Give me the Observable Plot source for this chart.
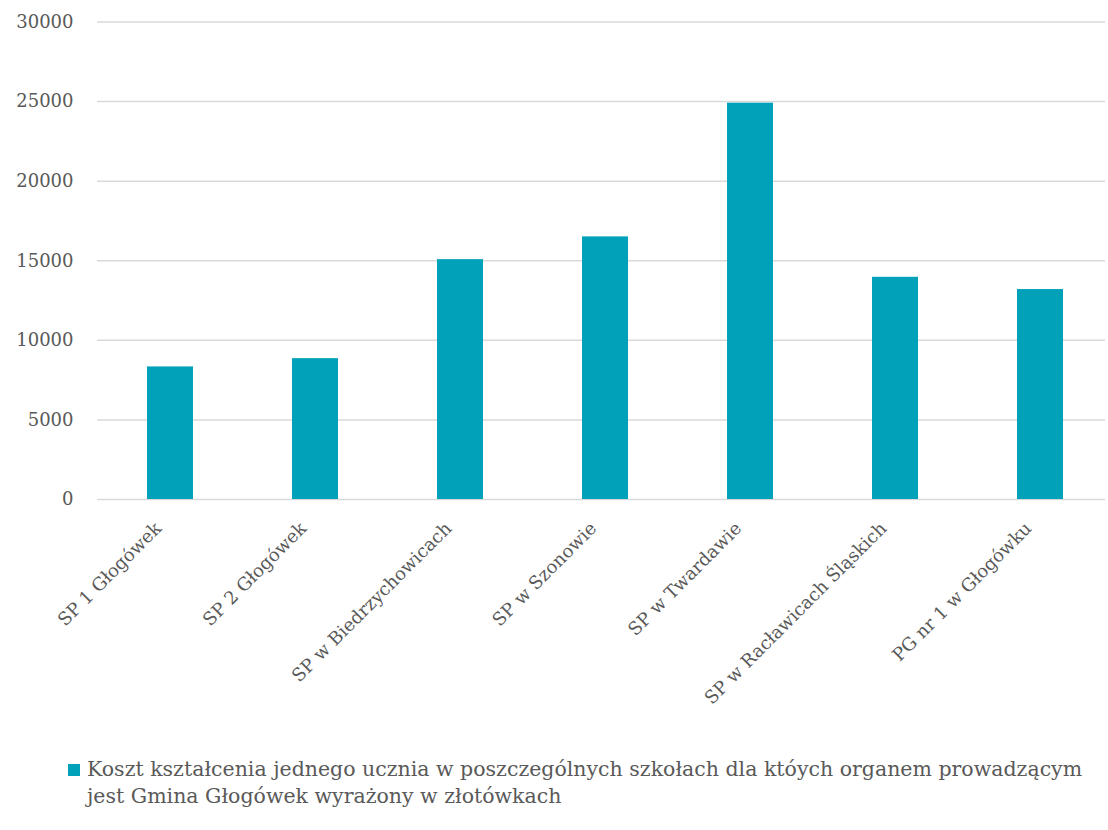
<!DOCTYPE html>
<html>
<head>
<meta charset="utf-8">
<script src="https://cdn.jsdelivr.net/npm/d3@7"></script>
<script src="https://cdn.jsdelivr.net/npm/@observablehq/plot@0.6"></script>
<style>
  html, body { margin: 0; padding: 0; background: #fff; }
  #chart { position: relative; width: 1108px; height: 830px; overflow: hidden; font-family: "DejaVu Serif", serif; }
  .legend { position: absolute; left: 68px; top: 756px; width: 1030px; display: flex; align-items: flex-start; color: #595959; font-size: 20.5px; line-height: 27px; }
  .legend .sw { width: 12px; height: 12px; background: #00A1B9; flex: none; margin-top: 8px; margin-right: 7px; }
  .legend .tx { width: 1010px; }
</style>
</head>
<body>
<div id="chart"></div>
<script>
const schools = [
  "SP 1 Głogówek",
  "SP 2 Głogówek",
  "SP w Biedrzychowicach",
  "SP w Szonowie",
  "SP w Twardawie",
  "SP w Racławicach Śląskich",
  "PG nr 1 w Głogówku"
];
const costs = [8330, 8850, 15070, 16500, 24900, 13960, 13190];
const yTicks = [0, 5000, 10000, 15000, 20000, 25000, 30000];
const seriesName = "Koszt kształcenia jednego ucznia w poszczególnych szkołach dla któych organem prowadzącym jest Gmina Głogówek wyrażony w złotówkach";

const data = schools.map((s, i) => ({school: s, cost: costs[i]}));

const plot = Plot.plot({
  width: 1108,
  height: 745,
  marginTop: 21,
  marginLeft: 97,
  marginRight: 3,
  marginBottom: 246,
  style: {fontFamily: "DejaVu Serif, serif", fontSize: "18px", color: "#595959", background: "#fff"},
  x: {domain: schools, range: [94, 1115], paddingInner: 0.685, paddingOuter: 0.3425, label: null},
  y: {domain: [0, 30000], range: [499, 21.5], label: null},
  marks: [
    Plot.ruleY(yTicks, {stroke: "#D9D9D9", strokeWidth: 1.5}),
    Plot.barY(data, {x: "school", y: "cost", fill: "#00A1B9"}),
    Plot.axisY({ticks: yTicks, tickSize: 0, tickPadding: 24, tickFormat: d => String(d), fontSize: 18, fill: "#595959"}),
    Plot.axisX({tickSize: 0, tickRotate: -45, tickPadding: 20, dx: -12, dy: 6, fontSize: 18, fill: "#595959"})
  ]
});
document.getElementById("chart").appendChild(plot);
const leg = document.createElement("div");
leg.className = "legend";
leg.innerHTML = `<div class="sw"></div><div class="tx"></div>`;
leg.querySelector(".tx").textContent = seriesName;
document.getElementById("chart").appendChild(leg);
</script>
</body>
</html>
